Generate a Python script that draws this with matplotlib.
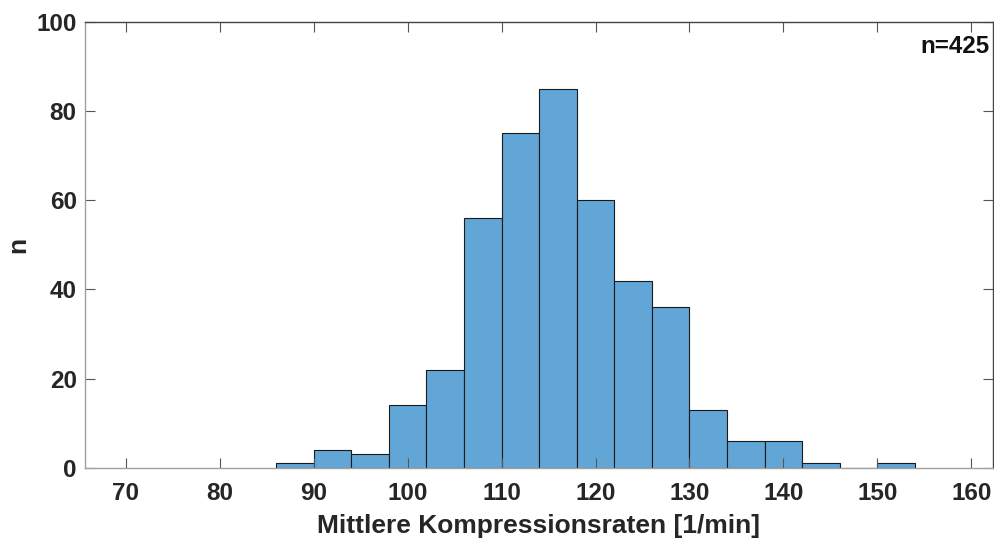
import matplotlib
matplotlib.use('Agg')
import matplotlib.pyplot as plt
import numpy as np

plt.rcParams['font.family'] = ['Liberation Sans', 'DejaVu Sans']
plt.rcParams['font.weight'] = 'bold'

# Histogramm der mittleren Kompressionsraten, Klassenbreite 4/min
bin_edges = [86, 90, 94, 98, 102, 106, 110, 114, 118, 122, 126, 130, 134, 138, 142, 146, 150, 154]
counts = [1, 4, 3, 14, 22, 56, 75, 85, 60, 42, 36, 13, 6, 6, 1, 0, 1]
x_ticks = [70, 80, 90, 100, 110, 120, 130, 140, 150, 160]
y_ticks = [0, 20, 40, 60, 80, 100]

fig = plt.figure(figsize=(9.95, 5.38), dpi=100)
ax = fig.add_axes([0.0854, 0.1307, 0.9126, 0.8283])

edges = np.array(bin_edges)
ax.bar(edges[:-1], counts, width=np.diff(edges), align='edge',
       color='#62a6d8', edgecolor='#1a1a1a', linewidth=0.8)

ax.set_xlim(65.67, 162.3)
ax.set_ylim(0, 100)
ax.set_xticks(x_ticks)
ax.set_yticks(y_ticks)
ax.tick_params(direction='in', top=True, right=True, length=7, width=0.8,
               color='#555555', labelsize=17.5)
ax.tick_params(axis='x', pad=10)
ax.tick_params(axis='y', pad=6)
for lab in ax.get_xticklabels() + ax.get_yticklabels():
    lab.set_fontweight('bold')
    lab.set_color('#262626')

for side in ['left', 'bottom']:
    ax.spines[side].set_color('#a0a0a0')
for side in ['top', 'right']:
    ax.spines[side].set_color('#444444')
for s in ax.spines.values():
    s.set_linewidth(1.0)

ax.set_xlabel('Mittlere Kompressionsraten [1/min]', fontsize=19,
              fontweight='bold', color='#262626', labelpad=7)
ax.set_ylabel('n', fontsize=19, fontweight='bold', color='#262626', labelpad=4)

ax.text(0.996, 0.97, 'n=425', transform=ax.transAxes, ha='right', va='top',
        fontsize=17.4, fontweight='bold', color='#111111')

fig.savefig('out.png', dpi=100)
